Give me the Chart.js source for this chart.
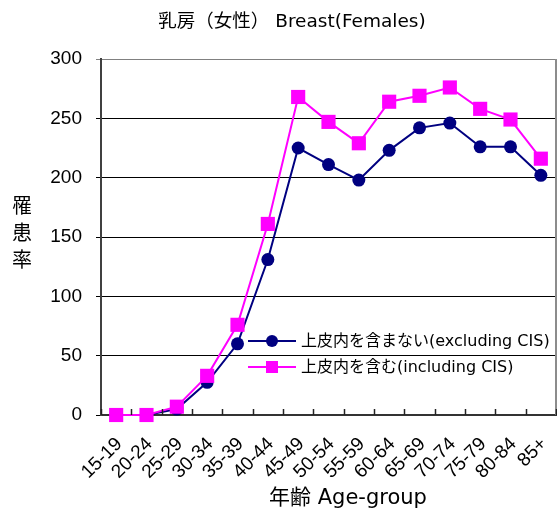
<!DOCTYPE html>
<html><head><meta charset="utf-8">
<script src="https://cdn.jsdelivr.net/npm/chart.js@4.4.1/dist/chart.umd.min.js"></script>
<style>html,body{margin:0;padding:0;background:#fff}canvas{display:block}</style>
</head><body>
<canvas id="c" width="557" height="514" style="width:557px;height:514px"></canvas>
<script>
const titleText = '乳房（女性） Breast(Females)';
const yTitleChars = ['罹', '患', '率'];
const xTitleText = '年齢 Age-group';
const ageGroups = ['15-19','20-24','25-29','30-34','35-39','40-44','45-49','50-54','55-59','60-64','65-69','70-74','75-79','80-84','85+'];
const excludingCIS = [0, 0, 5, 27.5, 60, 131, 225, 211, 198, 223, 242, 246, 226, 226, 202];
const includingCIS = [0, 0, 7, 33, 76, 161, 268, 247, 229, 264, 269, 276, 258, 249, 216];
const yTicks = [0, 50, 100, 150, 200, 250, 300];
const seriesLabels = ['上皮内を含まない(excluding CIS)', '上皮内を含む(including CIS)'];

const JP = '"Noto Sans CJK JP", "Noto Sans", sans-serif';
const MIX = '"DejaVu Sans", "Noto Sans CJK JP", sans-serif';
const LAT = '"Liberation Sans", Arial, sans-serif';

const decor = {
  id: 'decor',
  afterDraw(chart) {
    const ctx = chart.ctx, a = chart.chartArea, xs = chart.scales.x;
    ctx.save();
    // right border
    ctx.strokeStyle = '#8c8c8c'; ctx.lineWidth = 2;
    ctx.beginPath(); ctx.moveTo(a.right, a.top); ctx.lineTo(a.right, a.bottom); ctx.stroke();
    // inward x tick marks at category boundaries
    const half = (xs.getPixelForValue(1) - xs.getPixelForValue(0)) / 2;
    ctx.strokeStyle = '#222'; ctx.lineWidth = 1.5;
    for (let i = 0; i <= ageGroups.length; i++) {
      const x = Math.round(xs.getPixelForValue(i) - half) + 0.5;
      ctx.beginPath(); ctx.moveTo(x, a.bottom); ctx.lineTo(x, a.bottom - 6); ctx.stroke();
    }
    // title
    ctx.fillStyle = '#000'; ctx.textBaseline = 'middle'; ctx.textAlign = 'center';
    ctx.font = '18.5px ' + MIX;
    ctx.fillText(titleText, 292, 22);
    // y title (vertical stacked)
    ctx.font = '20px ' + JP;
    yTitleChars.forEach((ch, i) => ctx.fillText(ch, 22, 205 + i * 27));
    // x title
    ctx.font = '21px ' + MIX;
    ctx.fillText(xTitleText, 348, 499);
    // legend
    const ds = chart.data.datasets;
    const order = [1, 0];
    ctx.textAlign = 'left'; ctx.font = '16px ' + MIX;
    order.forEach((di, k) => {
      const d = ds[di];
      const y = 341 + k * 26;
      ctx.strokeStyle = d.borderColor; ctx.lineWidth = 2;
      ctx.beginPath(); ctx.moveTo(248, y); ctx.lineTo(296, y); ctx.stroke();
      ctx.fillStyle = d.pointBackgroundColor;
      if (d.pointStyle === 'circle') {
        ctx.beginPath(); ctx.arc(272, y, 6, 0, Math.PI * 2); ctx.fill();
      } else {
        ctx.fillRect(266, y - 6, 12, 12);
      }
      ctx.fillStyle = '#000';
      ctx.fillText(d.label, 301, y + 1);
    });
    ctx.restore();
  }
};

new Chart(document.getElementById('c'), {
  type: 'line',
  data: {
    labels: ageGroups,
    datasets: [
      {
        label: seriesLabels[1], data: includingCIS, order: 0,
        borderColor: '#ff00ff', backgroundColor: '#ff00ff', pointBackgroundColor: '#ff00ff',
        pointBorderColor: '#ff00ff', borderWidth: 2, pointStyle: 'rect', pointRadius: 10, pointBorderWidth: 0,
        tension: 0, clip: false
      },
      {
        label: seriesLabels[0], data: excludingCIS, order: 1,
        borderColor: '#000080', backgroundColor: '#000080', pointBackgroundColor: '#000080',
        pointBorderColor: '#000080', borderWidth: 2, pointStyle: 'circle', pointRadius: 6.5, pointBorderWidth: 0,
        tension: 0, clip: false
      }
    ]
  },
  options: {
    responsive: false, animation: false, devicePixelRatio: 1,
    layout: { autoPadding: false, padding: { top: 59, right: 1, left: 0, bottom: 0 } },
    plugins: { legend: { display: false }, title: { display: false }, tooltip: { enabled: false } },
    scales: {
      x: {
        type: 'category', offset: true,
        grid: { display: false, drawTicks: false },
        border: { display: true, color: '#333', width: 2 },
        ticks: { color: '#000', font: { family: LAT, size: 19 }, maxRotation: 45, minRotation: 45, padding: 18, labelOffset: 3, autoSkip: false },
        afterFit(s) { s.height = 99; s.paddingLeft = 0; s.paddingRight = 0; }
      },
      y: {
        min: 0, max: 300,
        afterBuildTicks(s) { s.ticks = yTicks.map(v => ({ value: v })); },
        grid: { color: c => (c.tick && c.tick.value === 300) ? '#808080' : '#000', lineWidth: 1, tickLength: 5, drawTicks: true },
        border: { display: true, color: '#404040', width: 2 },
        ticks: { color: '#000', font: { family: LAT, size: 19 }, padding: 14 },
        afterFit(s) { s.width = 101; s.paddingTop = 0; s.paddingBottom = 0; }
      }
    }
  },
  plugins: [decor]
});
</script>
</body></html>
